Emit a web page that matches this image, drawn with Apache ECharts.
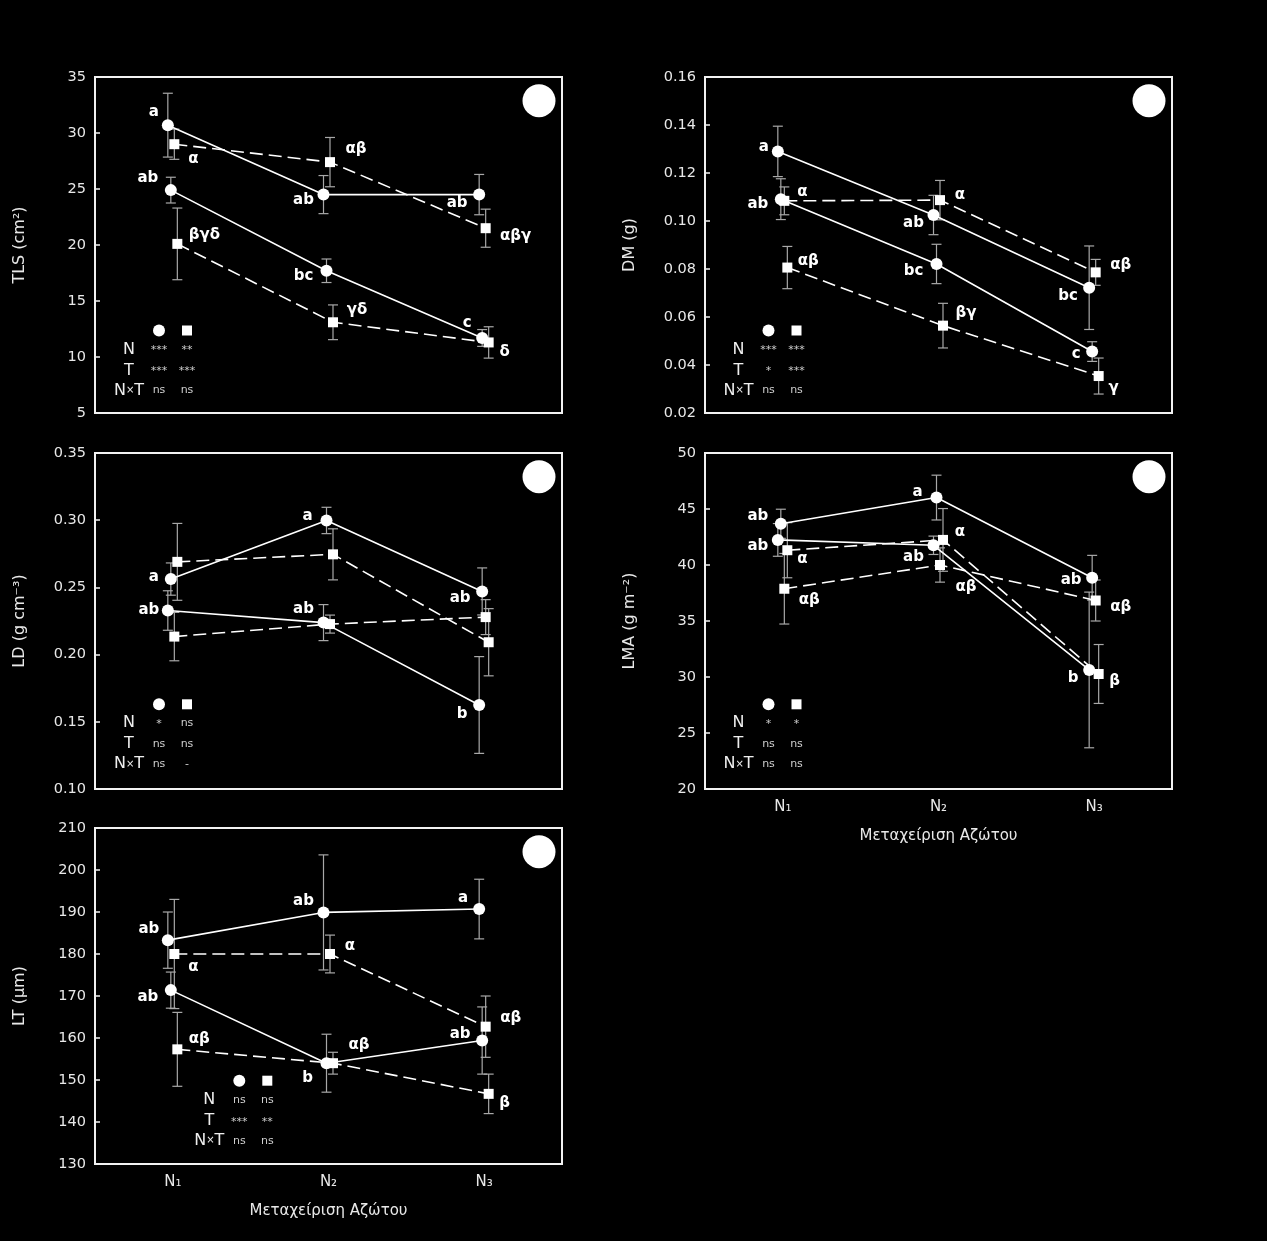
<!DOCTYPE html>
<html><head><meta charset="utf-8">
<script src="https://cdn.jsdelivr.net/npm/echarts@6/dist/echarts.min.js"></script>
<style>html,body{margin:0;padding:0;background:#000;}#c{width:1267px;height:1241px;}</style>
</head><body><div id="c"></div>
<script>
// ---------- DATA ----------
const categories = ['N₁', 'N₂', 'N₃'];
const xTitle = 'Μεταχείριση Αζώτου';
const statRows = ['N', 'T', 'N×T'];

// TLS (cm²)
const tlsC1 = [30.7, 24.5, 24.5];   const tlsC1Err = [2.85, 1.7, 1.8];   const tlsC1Let = ['a', 'ab', 'ab'];
const tlsC2 = [24.9, 17.7, 11.7];   const tlsC2Err = [1.15, 1.05, 0.75]; const tlsC2Let = ['ab', 'bc', 'c'];
const tlsS1 = [29.0, 27.4, 21.5];   const tlsS1Err = [1.35, 2.2, 1.7];   const tlsS1Let = ['α', 'αβ', 'αβγ'];
const tlsS2 = [20.1, 13.1, 11.3];   const tlsS2Err = [3.2, 1.55, 1.4];   const tlsS2Let = ['βγδ', 'γδ', 'δ'];
const tlsStats = [['***', '**'], ['***', '***'], ['ns', 'ns']];

// DM (g)
const dmC1 = [0.129, 0.1025, 0.0722];  const dmC1Err = [0.0105, 0.0082, 0.0174]; const dmC1Let = ['a', 'ab', 'bc'];
const dmC2 = [0.1091, 0.0821, 0.0456]; const dmC2Err = [0.0085, 0.0082, 0.0041]; const dmC2Let = ['ab', 'bc', 'c'];
const dmS1 = [0.1084, 0.1087, 0.0786]; const dmS1Err = [0.0058, 0.0082, 0.0054]; const dmS1Let = ['α', 'α', 'αβ'];
const dmS2 = [0.0806, 0.0564, 0.0354]; const dmS2Err = [0.0088, 0.0093, 0.0075]; const dmS2Let = ['αβ', 'βγ', 'γ'];
const dmStats = [['***', '***'], ['*', '***'], ['ns', 'ns']];

// LD (g cm⁻³)
const ldC1 = [0.2328, 0.2238, 0.1625]; const ldC1Err = [0.0147, 0.0134, 0.036];  const ldC1Let = ['ab', 'ab', 'b'];
const ldC2 = [0.2562, 0.2998, 0.247];  const ldC2Err = [0.012, 0.0098, 0.0175];  const ldC2Let = ['a', 'a', 'ab'];
const ldS1 = [0.2134, 0.2227, 0.2279]; const ldS1Err = [0.018, 0.0067, 0.013];
const ldS2 = [0.269, 0.2746, 0.2092];  const ldS2Err = [0.0286, 0.019, 0.025];
const ldStats = [['*', 'ns'], ['ns', 'ns'], ['ns', '-']];

// LMA (g m⁻²)
const lmaC1 = [42.24, 41.76, 30.63]; const lmaC1Err = [1.46, 0.82, 6.95]; const lmaC1Let = ['ab', 'ab', 'b'];
const lmaC2 = [43.68, 46.02, 38.86]; const lmaC2Err = [1.3, 2.0, 2.0];    const lmaC2Let = ['ab', 'a', 'ab'];
const lmaS1 = [37.88, 40.0, 36.83];  const lmaS1Err = [3.15, 1.53, 1.83]; const lmaS1Let = ['αβ', 'αβ', 'αβ'];
const lmaS2 = [41.32, 42.24, 30.27]; const lmaS2Err = [2.46, 2.8, 2.63];  const lmaS2Let = ['α', 'α', 'β'];
const lmaStats = [['*', '*'], ['ns', 'ns'], ['ns', 'ns']];

// LT (μm)
const ltC1 = [183.3, 189.9, 190.7]; const ltC1Err = [6.7, 13.7, 7.1]; const ltC1Let = ['ab', 'ab', 'a'];
const ltC2 = [171.4, 154.0, 159.4]; const ltC2Err = [4.3, 6.9, 8.0];  const ltC2Let = ['ab', 'b', 'ab'];
const ltS1 = [180.0, 180.0, 162.7]; const ltS1Err = [13, 4.5, 7.3];   const ltS1Let = ['α', 'α', 'αβ'];
const ltS2 = [157.3, 154.0, 146.7]; const ltS2Err = [8.8, 2.6, 4.7];  const ltS2Let = ['αβ', 'αβ', 'β'];
const ltStats = [['ns', 'ns'], ['***', '**'], ['ns', 'ns']];

// ---------- LAYOUT / STYLE ----------
const FONT = 'DejaVu Sans';
const GW = 467, GH = 336;
const OFF = [-5, -2, 1.5, 4.5]; // px jitter per series
const panels = [
  { left: 95, top: 77, y: [5, 35, 5, 0], name: 'TLS (cm²)', showX: false, stats: tlsStats, sa: [159, 330.5],
    s: [[tlsC1, tlsC1Err, tlsC1Let, 'circle', [[-14, -13], [-20, 6], [-22, 9]]],
        [tlsC2, tlsC2Err, tlsC2Let, 'circle', [[-23, -12], [-23, 5], [-15, -15]]],
        [tlsS1, tlsS1Err, tlsS1Let, 'rect', [[19, 15], [26, -13], [30, 8]]],
        [tlsS2, tlsS2Err, tlsS2Let, 'rect', [[27, -9], [24, -12], [16, 10]]]] },
  { left: 705, top: 77, y: [0.02, 0.16, 0.02, 2], name: 'DM (g)', showX: false, stats: dmStats, sa: [768.5, 330.5],
    s: [[dmC1, dmC1Err, dmC1Let, 'circle', [[-14, -4], [-20, 8], [-21, 8]]],
        [dmC2, dmC2Err, dmC2Let, 'circle', [[-23, 5], [-23, 7], [-16, 3]]],
        [dmS1, dmS1Err, dmS1Let, 'rect', [[18, -9], [20, -5], [25, -7]]],
        [dmS2, dmS2Err, dmS2Let, 'rect', [[21, -6], [23, -13], [15, 12]]]] },
  { left: 95, top: 453, y: [0.10, 0.35, 0.05, 2], name: 'LD (g cm⁻³)', showX: false, stats: ldStats, sa: [159, 704.3],
    s: [[ldC1, ldC1Err, ldC1Let, 'circle', [[-19, 0], [-20, -14], [-17, 9]]],
        [ldC2, ldC2Err, ldC2Let, 'circle', [[-17, -2], [-19, -4], [-22, 7]]],
        [ldS1, ldS1Err, null, 'rect', null],
        [ldS2, ldS2Err, null, 'rect', null]] },
  { left: 705, top: 453, y: [20, 50, 5, 0], name: 'LMA (g m⁻²)', showX: true, stats: lmaStats, sa: [768.5, 704.3],
    s: [[lmaC1, lmaC1Err, lmaC1Let, 'circle', [[-20, 6], [-20, 12], [-16, 8]]],
        [lmaC2, lmaC2Err, lmaC2Let, 'circle', [[-23, -8], [-19, -5], [-21, 2]]],
        [lmaS1, lmaS1Err, lmaS1Let, 'rect', [[25, 11], [26, 22], [25, 7]]],
        [lmaS2, lmaS2Err, lmaS2Let, 'rect', [[15, 9], [17, -8], [16, 7]]]] },
  { left: 95, top: 828, y: [130, 210, 10, 0], name: 'LT (μm)', showX: true, stats: ltStats, sa: [239.3, 1080.7],
    s: [[ltC1, ltC1Err, ltC1Let, 'circle', [[-19, -11], [-20, -11], [-16, -11]]],
        [ltC2, ltC2Err, ltC2Let, 'circle', [[-23, 7], [-19, 15], [-22, -6]]],
        [ltS1, ltS1Err, ltS1Let, 'rect', [[19, 13], [20, -8], [25, -9]]],
        [ltS2, ltS2Err, ltS2Let, 'rect', [[22, -10], [26, -18], [16, 9]]]] }
];

const TXT = '#e8e8e8';
const grid = [], xAxis = [], yAxis = [], series = [], graphic = [];

panels.forEach((p, i) => {
  grid.push({ left: p.left, top: p.top, width: GW, height: GH, show: true, borderColor: '#f2f2f2', borderWidth: 2, backgroundColor: 'transparent' });
  xAxis.push({ type: 'category', gridIndex: i, data: categories, boundaryGap: true,
    axisLine: { show: false }, axisTick: { show: false }, splitLine: { show: false },
    axisLabel: { show: p.showX, margin: 11, color: TXT, fontSize: 15, fontFamily: FONT },
    name: p.showX ? xTitle : '', nameLocation: 'middle', nameGap: 40,
    nameTextStyle: { color: TXT, fontSize: 15, fontFamily: FONT } });
  xAxis.push({ type: 'value', gridIndex: i, min: 0.5, max: 3.5, show: false });
  const dec = p.y[3];
  yAxis.push({ type: 'value', gridIndex: i, min: p.y[0], max: p.y[1], interval: p.y[2],
    axisLine: { show: true, lineStyle: { color: '#f2f2f2', width: 2 } },
    axisTick: { show: true, inside: true, length: 5, lineStyle: { color: '#f2f2f2', width: 1.5 } },
    splitLine: { show: false },
    axisLabel: { color: TXT, fontSize: 14.5, fontFamily: FONT, margin: 9, formatter: v => v.toFixed(dec) },
    name: p.name, nameLocation: 'middle', nameRotate: 90, nameGap: 67,
    nameTextStyle: { color: TXT, fontSize: 16, fontFamily: FONT } });

  p.s.forEach((s, j) => {
    const [vals, errs, lets, shape, lo] = s;
    const offU = OFF[j] / (GW / 3);
    series.push({
      type: 'line', xAxisIndex: 2 * i + 1, yAxisIndex: i, z: 4,
      symbol: shape, symbolSize: shape === 'circle' ? 12 : 10,
      itemStyle: { color: '#fff' },
      lineStyle: { color: '#fff', width: 1.6, type: shape === 'circle' ? 'solid' : [13, 6] },
      label: { show: !!lets, position: 'inside', color: '#fff', fontWeight: 'bold', fontSize: 15, fontFamily: FONT,
        textBorderWidth: 0, formatter: q => lets ? lets[q.dataIndex] : '' },
      animation: false,
      data: vals.map((y, k) => ({ value: [k + 1 + offU, y], label: lo ? { offset: lo[k] } : undefined }))
    });
    series.push({
      type: 'custom', xAxisIndex: 2 * i + 1, yAxisIndex: i, z: 2, silent: true, animation: false,
      encode: { x: 0, y: 1 },
      data: vals.map((y, k) => [k + 1 + offU, y, errs[k]]),
      renderItem: (params, api) => {
        const x = api.value(0), y = api.value(1), e = api.value(2);
        const t = api.coord([x, y + e]), b = api.coord([x, y - e]);
        const st = { stroke: '#a8a8a8', lineWidth: 1.2 };
        return { type: 'group', children: [
          { type: 'line', shape: { x1: t[0], y1: t[1], x2: b[0], y2: b[1] }, style: st },
          { type: 'line', shape: { x1: t[0] - 5, y1: t[1], x2: t[0] + 5, y2: t[1] }, style: st },
          { type: 'line', shape: { x1: b[0] - 5, y1: b[1], x2: b[0] + 5, y2: b[1] }, style: st }
        ] };
      }
    });
  });

  // big white circle marker in the corner
  graphic.push({ type: 'circle', shape: { cx: p.left + GW - 23, cy: p.top + 23.7, r: 16.5 }, style: { fill: '#fff' }, z: 10 });

  // significance inset
  const [ax, ay] = p.sa;
  graphic.push({ type: 'circle', shape: { cx: ax, cy: ay, r: 6 }, style: { fill: '#fff' }, z: 10 });
  graphic.push({ type: 'rect', shape: { x: ax + 28 - 5, y: ay - 5, width: 10, height: 10 }, style: { fill: '#fff' }, z: 10 });
  const rowDy = [19, 40, 60];
  statRows.forEach((r, k) => {
    graphic.push({ type: 'text', x: ax - 30, y: ay + rowDy[k], z: 10,
      style: { text: r === 'N×T' ? 'N{x|×}T' : r, rich: { x: { fontSize: 10, fill: '#eee', fontFamily: FONT } },
        fill: '#eee', fontSize: 16, fontFamily: FONT, align: 'center', verticalAlign: 'middle' } });
    p.stats[k].forEach((v, c) => {
      graphic.push({ type: 'text', x: ax + 28 * c, y: ay + rowDy[k] + (v.indexOf('*') >= 0 ? 1 : 0), z: 10,
        style: { text: v, fill: '#cfcfcf', fontSize: 11, fontFamily: FONT, align: 'center', verticalAlign: 'middle' } });
    });
  });
});

const chart = echarts.init(document.getElementById('c'), null, { renderer: 'canvas' });
chart.setOption({ backgroundColor: '#000', animation: false, grid, xAxis, yAxis, series, graphic });
</script></body></html>
